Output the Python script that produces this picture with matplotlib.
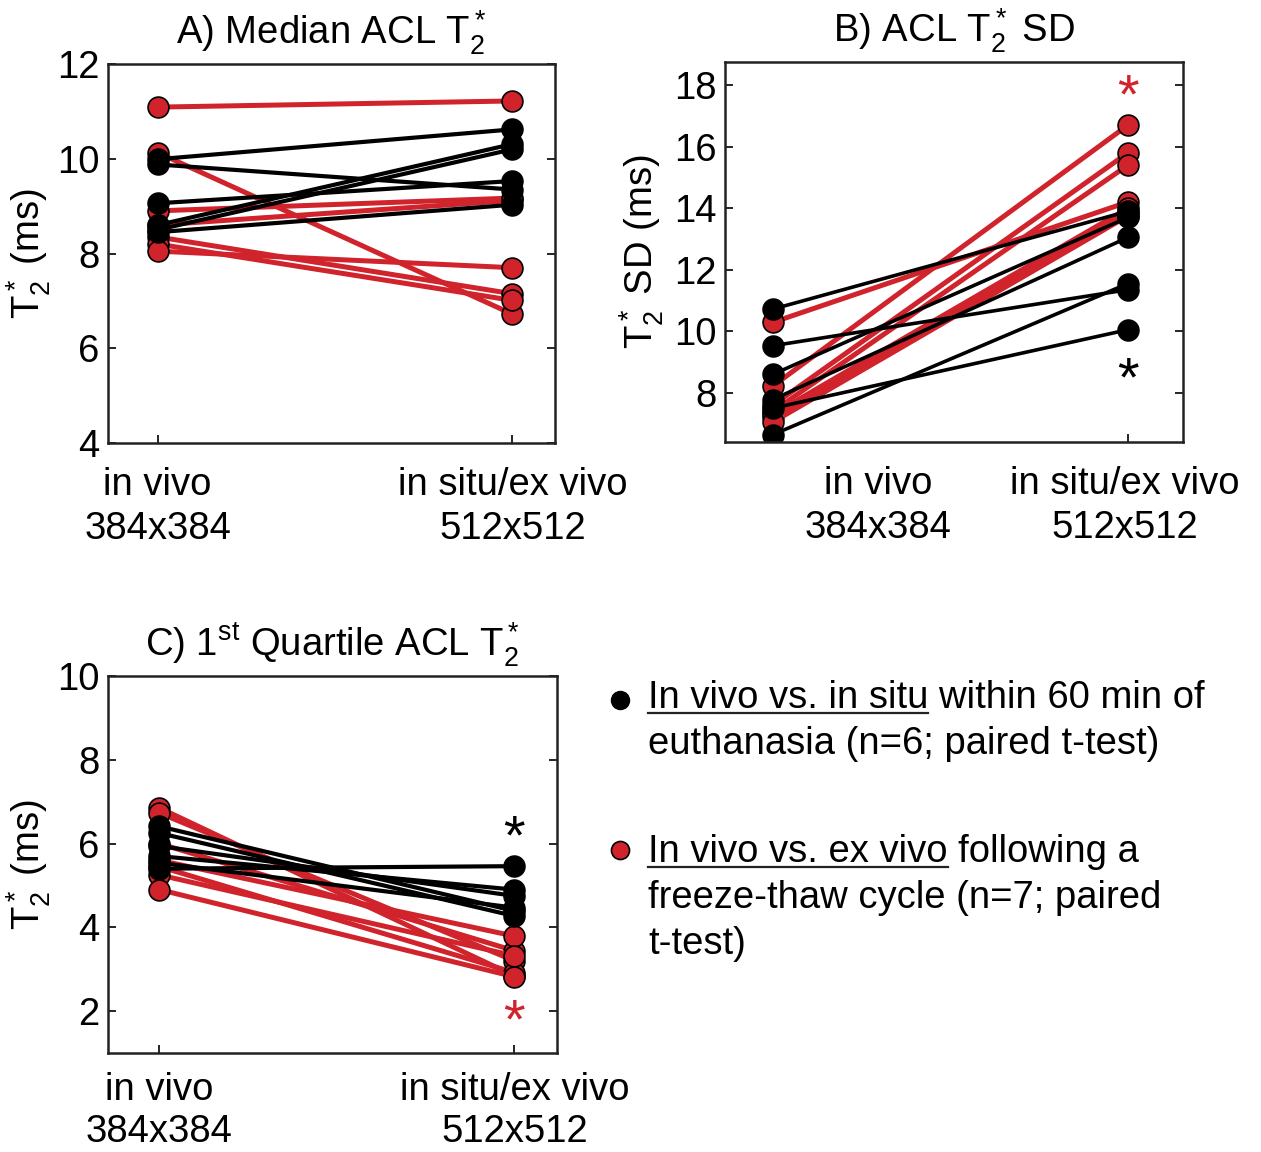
import numpy as np
import matplotlib.pyplot as plt
from matplotlib import transforms

plt.rcParams['font.family'] = ['Liberation Sans', 'DejaVu Sans']
plt.rcParams['mathtext.fontset'] = 'custom'
plt.rcParams['mathtext.rm'] = 'Liberation Sans'
plt.rcParams['mathtext.it'] = 'Liberation Sans'
plt.rcParams['mathtext.bf'] = 'Liberation Sans:bold'

RED = '#D0232B'
FS = 27.5

# x categories
groups = ['in vivo\n384x384', 'in situ/ex vivo\n512x512']

# A) median ACL T2* (ms)
a_black_pre = [9.99, 9.88, 8.60, 8.50, 9.06, 8.45]
a_black_post = [10.62, 9.35, 10.31, 10.20, 9.53, 9.03]
a_red_pre = [11.09, 10.13, 8.90, 8.60, 8.35, 8.20, 8.05]
a_red_post = [11.22, 6.72, 9.17, 9.12, 7.15, 7.01, 7.70]

# B) ACL T2* SD (ms)
b_black_pre = [10.72, 9.53, 8.60, 7.78, 7.50, 6.64]
b_black_post = [13.90, 11.35, 13.70, 13.05, 10.05, 11.55]
b_red_pre = [10.29, 8.22, 7.60, 7.40, 7.30, 7.20, 7.05]
b_red_post = [14.20, 16.70, 15.80, 15.40, 14.00, 13.85, 13.75]

# C) 1st quartile ACL T2* (ms)
c_black_pre = [5.40, 6.41, 6.25, 5.94, 5.70, 5.54]
c_black_post = [5.46, 4.39, 4.27, 4.75, 4.90, 4.47]
c_red_pre = [6.85, 6.73, 6.00, 5.60, 5.45, 5.25, 4.90]
c_red_post = [2.84, 3.20, 3.44, 3.79, 2.92, 3.32, 2.82]

W, H = 1261, 1152
fig = plt.figure(figsize=(W / 100, H / 100), dpi=100)


def px_axes(l, t, r, b):
    return fig.add_axes([l / W, 1 - b / H, (r - l) / W, (b - t) / H])


def pairs(ax, pre, post, color, lw):
    for y0, y1 in zip(pre, post):
        ax.plot([1, 2], [y0, y1], '-o', color=color, lw=lw, ms=15,
                mfc=color, mec='black', mew=1.2)


def style(ax, xlim, ylim, yticks):
    ax.set_xlim(xlim)
    ax.set_ylim(ylim)
    ax.set_yticks(yticks)
    ax.tick_params(direction='in', length=6, width=1.2, labelsize=FS,
                   right=True, top=False, pad=6)
    ax.tick_params(axis='x', pad=17)
    for s in ax.spines.values():
        s.set_linewidth(1.8)
        s.set_color('#222222')


def spread(ax, which='major', ls=1.3):
    for lbl in ax.get_xticklabels(minor=(which == 'minor')):
        lbl.set_linespacing(ls)


def star(ax, y, color):
    tr = transforms.offset_copy(ax.transData, fig, y=-0.46 * 40, units='points')
    ax.text(2, y, '*', color=color, fontsize=40, ha='center', va='baseline', transform=tr)


# panel A
axA = px_axes(108, 64, 555, 443)
pairs(axA, a_red_pre, a_red_post, RED, 3.6)
pairs(axA, a_black_pre, a_black_post, 'black', 3.0)
style(axA, (0.86, 2.12), (4, 12), [4, 6, 8, 10, 12])
axA.set_xticks([1, 2], labels=groups)
spread(axA)
axA.set_ylabel(r'T$_2^*$ (ms)', fontsize=FS, labelpad=3)
axA.set_title(r'A) Median ACL T$_2^*$', fontsize=FS, pad=14)

# panel B
axB = px_axes(725, 62, 1183, 442)
pairs(axB, b_red_pre, b_red_post, RED, 3.6)
pairs(axB, b_black_pre, b_black_post, 'black', 2.6)
style(axB, (0.865, 2.155), (6.4, 18.75), [8, 10, 12, 14, 16, 18])
axB.set_xticks([1, 2], labels=['', ''])
axB.set_xticks([1.296, 1.99], labels=groups, minor=True)
axB.tick_params(axis='x', which='minor', length=0, labelsize=FS, pad=17)
spread(axB, 'minor')
axB.set_ylabel(r'T$_2^*$ SD (ms)', fontsize=FS, labelpad=6)
axB.set_title(r'B) ACL T$_2^*$ SD', fontsize=FS, pad=14)
star(axB, 17.95, RED)
star(axB, 8.75, 'black')

# panel C
axC = px_axes(108, 676, 557, 1053)
pairs(axC, c_red_pre, c_red_post, RED, 3.6)
pairs(axC, c_black_pre, c_black_post, 'black', 3.0)
style(axC, (0.855, 2.12), (1, 10), [2, 4, 6, 8, 10])
axC.set_xticks([1, 2], labels=groups)
axC.tick_params(axis='x', pad=14)
spread(axC, ls=1.2)
axC.set_ylabel(r'T$_2^*$ (ms)', fontsize=FS, labelpad=3)
axC.set_title(r'C) 1$^{st}$ Quartile ACL T$_2^*$', fontsize=FS, pad=14)
star(axC, 6.38, 'black')
star(axC, 1.98, RED)

# legend drawn in pixel space
leg = fig.add_axes([0, 0, 1, 1])
leg.set_xlim(0, W)
leg.set_ylim(H, 0)
leg.axis('off')
leg.plot([620], [700], 'o', ms=13, mfc='black', mec='black')
leg.plot([620], [850], 'o', ms=13, mfc=RED, mec='black', mew=1.2)

entries = [
    (708, 'In vivo vs. in situ',
     ['In vivo vs. in situ within 60 min of', 'euthanasia (n=6; paired t-test)']),
    (862, 'In vivo vs. ex vivo',
     ['In vivo vs. ex vivo following a', 'freeze-thaw cycle (n=7; paired', 't-test)']),
]
x0 = 648
step = 46
for yb, under, lines in entries:
    for i, line in enumerate(lines):
        leg.text(x0, yb + i * step, line, fontsize=FS, ha='left', va='baseline')
    tmp = leg.text(x0, yb, under, fontsize=FS, ha='left', va='baseline', alpha=0)
    fig.canvas.draw()
    bb = tmp.get_window_extent()
    tmp.remove()
    leg.plot([x0, x0 + bb.width], [yb + 5, yb + 5], color='#222222', lw=1.6)

fig.savefig('out.png', dpi=100)
